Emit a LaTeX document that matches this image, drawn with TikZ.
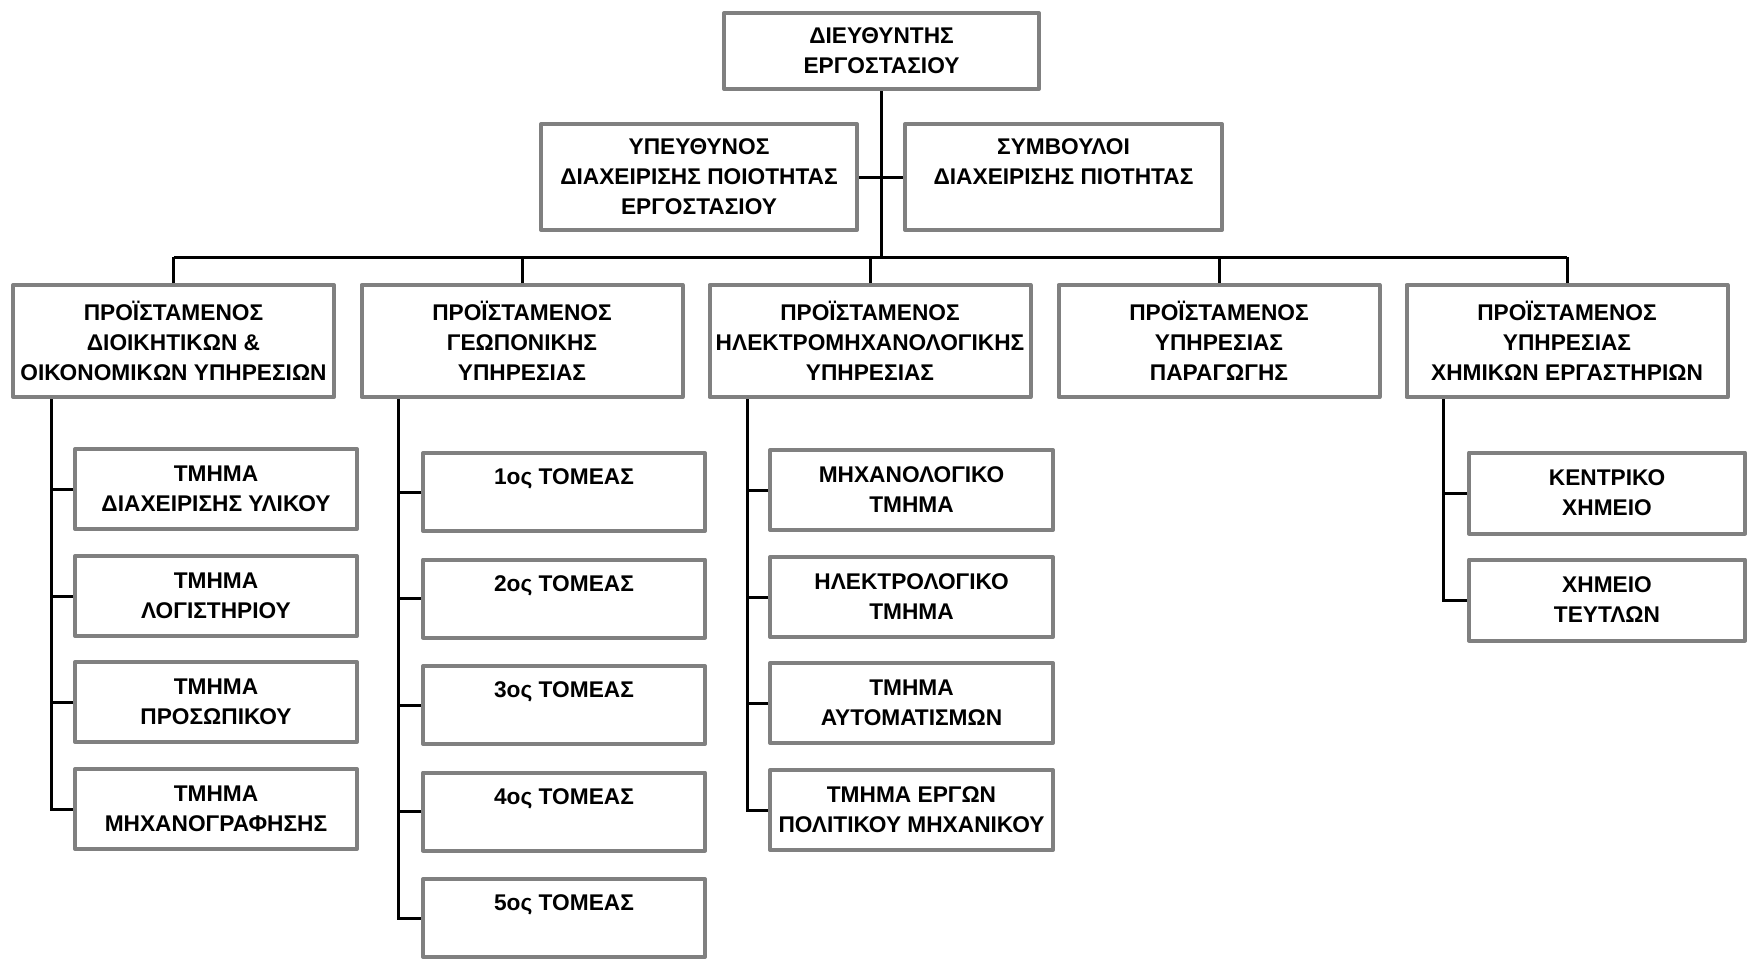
\documentclass[tikz,border=0pt]{standalone}
\usepackage{fontspec}
\setmainfont{Liberation Sans}
\definecolor{boxgray}{RGB}{128,128,128}
\begin{document}
\begin{tikzpicture}[x=1pt,y=-1pt,
  box/.style={draw=boxgray, line width=4pt, line join=round, fill=white,
    align=center, inner sep=0pt,
    font=\fontsize{22.7}{30}\selectfont\bfseries},
  headbox/.style={box, minimum width=315pt, minimum height=76pt},
  staffbox/.style={box, minimum width=316pt, minimum height=106pt},
  chiefbox/.style={box, minimum width=321pt, minimum height=112pt},
  unitbox/.style={box, minimum width=282pt, minimum height=80pt},
  link/.style={line width=3pt, draw=black}]
\useasboundingbox (0,0) rectangle (1749,962);

% director and staff
\node[headbox] (dir) at (881.5,51) {ΔΙΕΥΘΥΝΤΗΣ\\ΕΡΓΟΣΤΑΣΙΟΥ};
\node[staffbox] (qm) at (699,177) {ΥΠΕΥΘΥΝΟΣ\\ΔΙΑΧΕΙΡΙΣΗΣ ΠΟΙΟΤΗΤΑΣ\\ΕΡΓΟΣΤΑΣΙΟΥ};
\node[staffbox, minimum width=317pt] (adv) at (1063.5,177) {ΣΥΜΒΟΥΛΟΙ\\ΔΙΑΧΕΙΡΙΣΗΣ ΠΙΟΤΗΤΑΣ\\\mbox{}};

% heads of services
\node[chiefbox] (s1) at (173.5,341) {ΠΡΟΪΣΤΑΜΕΝΟΣ\\ΔΙΟΙΚΗΤΙΚΩΝ \&\\ΟΙΚΟΝΟΜΙΚΩΝ ΥΠΗΡΕΣΙΩΝ};
\node[chiefbox] (s2) at (522,341) {ΠΡΟΪΣΤΑΜΕΝΟΣ\\ΓΕΩΠΟΝΙΚΗΣ\\ΥΠΗΡΕΣΙΑΣ};
\node[chiefbox] (s3) at (870,341) {ΠΡΟΪΣΤΑΜΕΝΟΣ\\ΗΛΕΚΤΡΟΜΗΧΑΝΟΛΟΓΙΚΗΣ\\ΥΠΗΡΕΣΙΑΣ};
\node[chiefbox] (s4) at (1219,341) {ΠΡΟΪΣΤΑΜΕΝΟΣ\\ΥΠΗΡΕΣΙΑΣ\\ΠΑΡΑΓΩΓΗΣ};
\node[chiefbox] (s5) at (1567,341) {ΠΡΟΪΣΤΑΜΕΝΟΣ\\ΥΠΗΡΕΣΙΑΣ\\ΧΗΜΙΚΩΝ ΕΡΓΑΣΤΗΡΙΩΝ};

% administrative & financial departments
\node[unitbox] (a1) at (216,489) {ΤΜΗΜΑ\\ΔΙΑΧΕΙΡΙΣΗΣ ΥΛΙΚΟΥ};
\node[unitbox] (a2) at (216,596) {ΤΜΗΜΑ\\ΛΟΓΙΣΤΗΡΙΟΥ};
\node[unitbox] (a3) at (216,702) {ΤΜΗΜΑ\\ΠΡΟΣΩΠΙΚΟΥ};
\node[unitbox] (a4) at (216,809) {ΤΜΗΜΑ\\ΜΗΧΑΝΟΓΡΑΦΗΣΗΣ};

% agricultural sectors
\node[unitbox, minimum height=78pt] (g1) at (564,492) {1ος ΤΟΜΕΑΣ\\\mbox{}};
\node[unitbox, minimum height=78pt] (g2) at (564,598.5) {2ος ΤΟΜΕΑΣ\\\mbox{}};
\node[unitbox, minimum height=78pt] (g3) at (564,705) {3ος ΤΟΜΕΑΣ\\\mbox{}};
\node[unitbox, minimum height=78pt] (g4) at (564,811.5) {4ος ΤΟΜΕΑΣ\\\mbox{}};
\node[unitbox, minimum height=78pt] (g5) at (564,918) {5ος ΤΟΜΕΑΣ\\\mbox{}};

% electromechanical departments
\node[unitbox, minimum width=283pt] (e1) at (911.5,490) {ΜΗΧΑΝΟΛΟΓΙΚΟ\\ΤΜΗΜΑ};
\node[unitbox, minimum width=283pt] (e2) at (911.5,597) {ΗΛΕΚΤΡΟΛΟΓΙΚΟ\\ΤΜΗΜΑ};
\node[unitbox, minimum width=283pt] (e3) at (911.5,703) {ΤΜΗΜΑ\\ΑΥΤΟΜΑΤΙΣΜΩΝ};
\node[unitbox, minimum width=283pt] (e4) at (911.5,810) {ΤΜΗΜΑ ΕΡΓΩΝ\\ΠΟΛΙΤΙΚΟΥ ΜΗΧΑΝΙΚΟΥ};

% chemical laboratories
\node[unitbox, minimum width=276pt, minimum height=81pt] (c1) at (1607,493) {ΚΕΝΤΡΙΚΟ\\ΧΗΜΕΙΟ};
\node[unitbox, minimum width=276pt, minimum height=81pt] (c2) at (1607,600) {ΧΗΜΕΙΟ\\ΤΕΥΤΛΩΝ};

% main trunk and bus
\coordinate (busL) at (173.5,257);
\coordinate (busR) at (1567,257);
\draw[link] (dir.south) -- (dir.south |- busL);
\draw[link] (qm.east) -- (adv.west);
\draw[link] (busL) -- (busR);
\foreach \s in {s1,s2,s3,s4,s5}
  \draw[link] (\s.north) -- (\s.north |- busL);

% branch spines
\coordinate (v1) at ([xshift=40pt]s1.south west);
\coordinate (v2) at ([xshift=39pt]s2.south west);
\coordinate (v3) at ([xshift=40pt]s3.south west);
\coordinate (v5) at ([xshift=39pt]s5.south west);
\draw[link] (v1) |- (a4.west);
\draw[link] (v2) |- (g5.west);
\draw[link] (v3) |- (e4.west);
\draw[link] (v5) |- (c2.west);
\foreach \n in {a1,a2,a3} \draw[link] (\n.west) -- (\n.west -| v1);
\foreach \n in {g1,g2,g3,g4} \draw[link] (\n.west) -- (\n.west -| v2);
\foreach \n in {e1,e2,e3} \draw[link] (\n.west) -- (\n.west -| v3);
\draw[link] (c1.west) -- (c1.west -| v5);
\end{tikzpicture}
\end{document}
